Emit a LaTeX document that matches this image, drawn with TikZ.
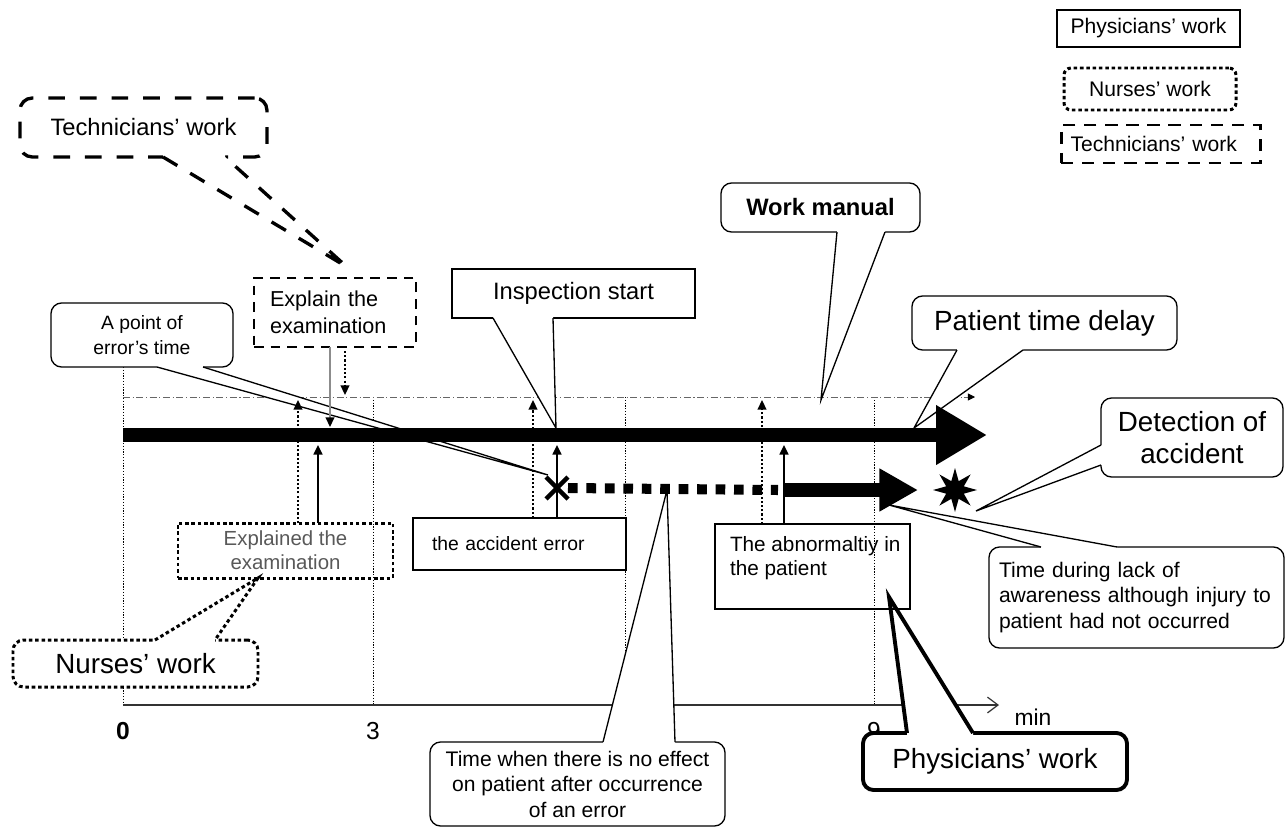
\documentclass[tikz,border=0pt]{standalone}
\usepackage{fontspec}
\setmainfont{Liberation Sans}
\usepackage{tikz}
\usetikzlibrary{arrows.meta, calc, shapes.geometric, shapes.misc}

% wedge of a callout: #2,#3 base points on the box, #4 tip, #5 shift into the box
\newcommand{\ptr}[5][]{%
  \fill[white] ($(#2)+(#5)$) -- (#2) -- (#4) -- (#3) -- ($(#3)+(#5)$) -- cycle;
  \draw[#1] (#2) -- (#4) -- (#3);
}

\begin{document}
\begin{tikzpicture}[x=0.02cm, y=-0.02cm,
    every node/.append style={inner sep=0pt, outer sep=0pt},
    box/.style 2 args={minimum width=#1*0.02cm, minimum height=#2*0.02cm},
    tw/.style={text width=#1*0.02cm},
    txt/.style={font=\fontsize{12}{14.5}\selectfont},
    sml/.style={font=\fontsize{11}{14.2}\selectfont},
    mid/.style={font=\fontsize{13.5}{16}\selectfont},
    big/.style={font=\fontsize{15.8}{18.2}\selectfont},
    grid/.style={line width=0.5pt, dash pattern=on 0.7pt off 0.9pt},
    dashdot/.style={black!60, line width=0.5pt, dash pattern=on 4pt off 1.5pt on 0.6pt off 1.5pt,
      -{Triangle[length=4pt,width=4pt,black]}},
    axis/.style={black!80, line width=0.7pt, -{Straight Barb[length=6pt,width=9pt]}},
    call/.style={draw, fill=white, line width=0.75pt, rounded corners=6pt},
    techline/.style={line width=1.9pt, dash pattern=on 9.5pt off 8.5pt},
    nurseline/.style={line width=1.7pt, dash pattern=on 2pt off 1.6pt},
    physline/.style={line width=2.2pt},
    dotarr/.style={line width=1pt, dash pattern=on 1.2pt off 1.2pt, -{Triangle[length=5.5pt,width=5pt]}},
    solarr/.style={line width=1.2pt, -{Triangle[length=5.5pt,width=5pt]}},
    grayarr/.style={black!45, line width=0.8pt, -{Triangle[length=5.5pt,width=5pt,black]}}]

  \useasboundingbox (0,0) rectangle (1286,829);
  \fill[white] (0,0) rectangle (1286,829);

  % time grid
  \coordinate (ddL) at (123,397);
  \coordinate (ddR) at (975,397);
  \coordinate (axL) at (123,705);
  \coordinate (axR) at (999,705);
  \foreach \x/\top in {123/367, 373/397, 625/397, 874/397}
    \draw[grid] (\x,\top) -- (\x,705);
  \draw[dashdot] (ddL) -- (ddR);
  \draw[axis] (axL) -- (axR);
  \node[font=\bfseries\fontsize{14}{16}\selectfont] (t0) at (123,731) {0};
  \node[font=\fontsize{14}{16}\selectfont] (t3) at (373,731) {3};
  \node[font=\fontsize{14}{16}\selectfont] (t9) at (874,731) {9};
  \node[font=\fontsize{13}{16}\selectfont] (tmin) at (1033,717) {min};

  % legend
  \node[draw, line width=1.1pt, box={183}{37}, txt] (lgphys) at (1148.5,28.5) {Physicians' work};
  \node[draw, nurseline, rounded corners=4pt, box={172}{42}, txt] (lgnurse) at (1150,89) {Nurses' work};
  \node[draw, line width=1.7pt, dash pattern=on 7pt off 5pt, box={199}{38}, txt, tw={180}, align=left]
    (lgtech) at (1160.5,144) {Technicians' work};

  % callouts
  \node[call, techline, rounded corners=7pt, box={247}{59}, mid] (tech) at (143.5,127.5) {Technicians' work};
  \coordinate (tech1) at ($(tech.south west)+(143,0)$);
  \coordinate (tech2) at ($(tech.south west)+(205,0)$);
  \coordinate (techtip) at (347,267);
  \ptr[techline]{tech1}{tech2}{techtip}{0,-4}

  \node[call, box={182}{64}, sml, align=center] (pt) at (142,335) {A point of\\error's time};
  \coordinate (pt1) at ($(pt.south west)+(106,0)$);
  \coordinate (pt2) at ($(pt.south west)+(152,0)$);
  \coordinate (pttip) at (548,475);
  \ptr[line width=0.75pt]{pt1}{pt2}{pttip}{0,-3}

  \node[call, sharp corners, box={243}{49}, mid] (insp) at (573.5,293.5) {Inspection start};
  \coordinate (insp1) at ($(insp.south west)+(41,0)$);
  \coordinate (insp2) at ($(insp.south west)+(101,0)$);
  \coordinate (insptip) at (556,428);
  \ptr[line width=0.75pt]{insp1}{insp2}{insptip}{0,-3}

  \node[call, box={199}{49}, font=\bfseries\fontsize{13.5}{16}\selectfont] (man) at (820.5,207.5) {Work manual};
  \coordinate (man1) at ($(man.south west)+(116,0)$);
  \coordinate (man2) at ($(man.south west)+(164,0)$);
  \coordinate (mantip) at (821,400);
  \ptr[line width=0.75pt]{man1}{man2}{mantip}{0,-3}

  \node[call, box={265}{54}, big] (delay) at (1044.5,323) {Patient time delay};
  \coordinate (delay1) at ($(delay.south west)+(45,0)$);
  \coordinate (delay2) at ($(delay.south west)+(111,0)$);
  \coordinate (delaytip) at (914,428);
  \ptr[line width=0.75pt]{delay1}{delay2}{delaytip}{0,-3}

  \node[call, box={182}{79}, big, align=center] (det) at (1192,437.5) {Detection of\\accident};
  \coordinate (det1) at ($(det.north west)+(0,47)$);
  \coordinate (det2) at ($(det.north west)+(0,67)$);
  \coordinate (dettip) at (976,511);
  \ptr[line width=0.75pt]{det1}{det2}{dettip}{3,0}

  \node[call, box={295}{101}, txt, tw={275}, align=left] (lack) at (1136.5,597.5)
    {Time during lack of\\awareness although injury to\\patient had not occurred};
  \coordinate (lack1) at ($(lack.north west)+(52,0)$);
  \coordinate (lack2) at ($(lack.north west)+(128,0)$);
  \coordinate (lacktip) at (889,505);
  \ptr[line width=0.75pt]{lack1}{lack2}{lacktip}{0,3}

  \node[call, box={295}{84}, txt, align=center] (noeff) at (577.5,784)
    {Time when there is no effect\\on patient after occurrence\\of an error};
  \coordinate (noeff1) at ($(noeff.north west)+(173,0)$);
  \coordinate (noeff2) at ($(noeff.north west)+(245,0)$);
  \coordinate (noefftip) at (667,490);
  \ptr[line width=0.75pt]{noeff1}{noeff2}{noefftip}{0,3}

  \node[call, physline, box={264}{57}, big] (phys) at (995,761.5) {Physicians' work};
  \coordinate (phys1) at ($(phys.north west)+(44,0)$);
  \coordinate (phys2) at ($(phys.north west)+(110,0)$);
  \coordinate (phystip) at (889,597);
  \ptr[physline]{phys1}{phys2}{phystip}{0,5}

  \node[call, nurseline, box={245}{47}, big] (nurse) at (135.5,663.5) {Nurses' work};
  \coordinate (nurse1) at ($(nurse.north west)+(142,0)$);
  \coordinate (nurse2) at ($(nurse.north west)+(202,0)$);
  \coordinate (nursetip) at (258,578);
  \ptr[nurseline]{nurse1}{nurse2}{nursetip}{0,4}

  % task boxes
  \node[draw, line width=1.3pt, dash pattern=on 5.5pt off 4pt, box={162}{69}, tw={130}, align=left,
    font=\fontsize{12.3}{15.4}\selectfont] (exp) at (335,312.5) {Explain the\\examination};
  \node[draw, nurseline, box={215}{55}, align=center, text=black!65,
    font=\fontsize{11.6}{13.7}\selectfont] (exd) at (285.5,550.5) {Explained the\\examination};
  \node[draw, line width=0.75pt, box={213}{52}, tw={175}, align=left, sml] (acc) at (519.5,544) {the accident error};
  \node[draw, line width=1.4pt, box={195}{85}] (abn) at (812.5,566.5) {};
  \node[anchor=north west, align=left, font=\fontsize{11.8}{14.2}\selectfont] (abntxt)
    at ($(abn.north west)+(15,12)$) {The abnormaltiy in\\the patient};

  % time marks
  \coordinate (d1) at (298,400);
  \coordinate (d2) at (533,400);
  \coordinate (d3) at (762,400);
  \coordinate (s1) at (318,445);
  \coordinate (s2) at (557,445);
  \coordinate (s3) at (784,445);
  \coordinate (g1) at (330,427);
  \coordinate (c1) at (345,395);
  \draw[dotarr] (exd.north -| d1) -- (d1);
  \draw[solarr] (exd.north -| s1) -- (s1);
  \draw[grayarr] (exp.south -| g1) -- (g1);
  \draw[dotarr] ($(exp.south -| c1)+(0,4)$) -- (c1);
  \draw[dotarr] (acc.north -| d2) -- (d2);
  \draw[solarr] (acc.north -| s2) -- (s2);
  \draw[dotarr] (abn.north -| d3) -- (d3);
  \draw[solarr] (abn.north -| s3) -- (s3);

  % patient flow
  \coordinate (barL) at (123,435);
  \coordinate (barR) at (987,435);
  \draw[line width=8pt, -{Triangle[length=29pt,width=32pt]}] (barL) -- (barR);
  \node[cross out, draw, line width=2.6pt, minimum size=0.44cm] (err) at (557,488) {};
  \coordinate (sqE) at (778,490);
  \coordinate (lowS) at (784,490);
  \coordinate (lowE) at (918,490);
  \draw[line width=5.7pt, dash pattern=on 5.5pt off 5pt] (err.east) -- (sqE);
  \draw[line width=8pt, -{Triangle[length=22pt,width=23pt]}] (lowS) -- (lowE);
  \node[star, star points=8, star point ratio=2.3, fill, minimum size=0.88cm] (burst) at (955,490) {};
\end{tikzpicture}
\end{document}
